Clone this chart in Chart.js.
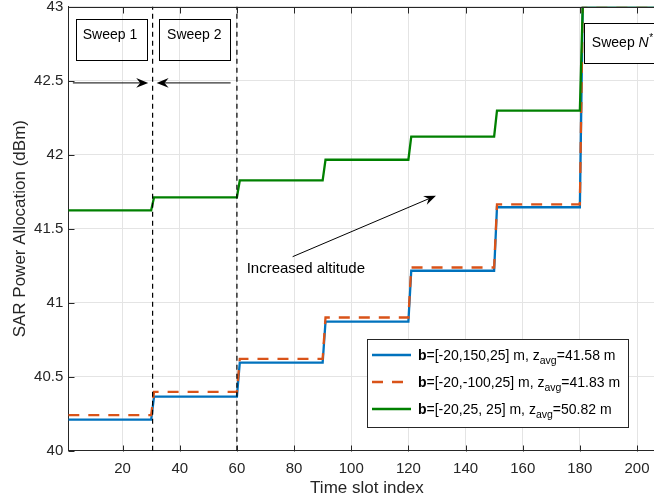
<!DOCTYPE html>
<html><head><meta charset="utf-8">
<script src="https://cdn.jsdelivr.net/npm/chart.js@4"></script>
<style>
html,body{margin:0;padding:0;background:#fff;overflow:hidden;}
#wrap{width:654px;height:499px;overflow:hidden;position:relative;}
canvas{display:block;}
</style></head><body>
<div id="wrap"><canvas id="c" width="700" height="499" style="width:700px;height:499px"></canvas></div>
<script>
// ---------------- data ----------------
const sweepLength = 30;
const xMin = 1, xMax = 210;
const xTicks = [20, 40, 60, 80, 100, 120, 140, 160, 180, 200];
const yTicks = [40, 40.5, 41, 41.5, 42, 42.5, 43];
const sweepBoundaries = [30.5, 60];
// power level (dBm) held during each sweep of 30 time slots
const blueLevels   = [40.21, 40.365, 40.595, 40.872, 41.216, 41.645, 43.0];
const orangeLevels = [40.24, 40.398, 40.620, 40.900, 41.238, 41.665, 43.0];
const greenLevels  = [41.624, 41.712, 41.826, 41.966, 42.122, 42.298, 43.0];
const seriesBold   = ['b', 'b', 'b'];
const seriesText   = ['=[-20,150,25] m, z', '=[-20,-100,25] m, z', '=[-20,25, 25] m, z'];
const seriesSub    = ['avg', 'avg', 'avg'];
const seriesZavg   = ['=41.58 m', '=41.83 m', '=50.82 m'];
const seriesColors = ['#0072BD', '#D95319', '#008000'];
const xTitle = 'Time slot index';
const yTitle = 'SAR Power Allocation (dBm)';

const FONT = '"Liberation Sans", Arial, Helvetica, sans-serif';
const AX = '#262626';

function stepPoints(levels) {
  const pts = [];
  levels.forEach((v, s) => {
    const start = s * sweepLength + 1;
    const end = (s === levels.length - 1) ? xMax : (s + 1) * sweepLength;
    pts.push({x: start, y: v});
    pts.push({x: end, y: v});
  });
  return pts;
}

const boundaryDatasets = sweepBoundaries.map(b => ({
  data: [{x: b, y: yTicks[0]}, {x: b, y: yTicks[yTicks.length - 1]}],
  borderColor: '#000', borderWidth: 1.2, borderDash: [5, 4],
  pointRadius: 0, order: 0, clip: false
}));

const mkSeries = (levels, i, extra) => Object.assign({
  data: stepPoints(levels),
  borderColor: seriesColors[i], borderWidth: 2.3,
  pointRadius: 0, tension: 0, fill: false
}, extra);

// --------- annotations (data coordinates) ----------
const sweepBoxes = [
  {x0: 3.65, x1: 28.5, y0: 42.915, y1: 42.635, label: 'Sweep 1', tx: 15.6, ty: 42.805},
  {x0: 32.7, x1: 57.7, y0: 42.915, y1: 42.635, label: 'Sweep 2', tx: 45.1, ty: 42.805}
];
const sweepArrows = [
  {x0: 2.6, y0: 42.485, x1: 28.96, y1: 42.485},
  {x0: 57.8, y0: 42.485, x1: 31.9, y1: 42.485}
];
const altArrow = {x0: 79.5, y0: 41.311, x1: 129.65, y1: 41.723};
const altText = {x: 63.4, y: 41.232, text: 'Increased altitude'};
const lastBox = {x0: 181.4, x1: 225, y0: 42.888, y1: 42.618, textX: 184.2, textY: 42.761};

function arrowHead(ctx, x0, y0, x1, y1) {
  const a = Math.atan2(y1 - y0, x1 - x0);
  const L = 12, W = 4.8, N = 8;
  ctx.save();
  ctx.translate(x1, y1); ctx.rotate(a);
  ctx.beginPath();
  ctx.moveTo(0, 0);
  ctx.lineTo(-L, -W);
  ctx.lineTo(-N, 0);
  ctx.lineTo(-L, W);
  ctx.closePath();
  ctx.fillStyle = '#000'; ctx.fill();
  ctx.restore();
}

const annot = {
  id: 'annot',
  afterDatasetsDraw(chart) {
    const ctx = chart.ctx, xs = chart.scales.x, ys = chart.scales.y;
    const X = v => xs.getPixelForValue(v), Y = v => ys.getPixelForValue(v);
    ctx.save();
    ctx.strokeStyle = '#000'; ctx.lineWidth = 1; ctx.setLineDash([]);
    ctx.fillStyle = '#000';
    // sweep boxes
    sweepBoxes.forEach(b => {
      ctx.strokeRect(Math.round(X(b.x0)) + 0.5, Math.round(Y(b.y0)) + 0.5,
        Math.round(X(b.x1) - X(b.x0)), Math.round(Y(b.y1) - Y(b.y0)));
      ctx.font = '14px ' + FONT; ctx.textAlign = 'center'; ctx.textBaseline = 'middle';
      ctx.fillText(b.label, X(b.tx), Y(b.ty));
    });
    // last box
    ctx.fillStyle = '#fff';
    ctx.fillRect(X(lastBox.x0), Y(lastBox.y0), X(lastBox.x1) - X(lastBox.x0), Y(lastBox.y1) - Y(lastBox.y0));
    ctx.strokeRect(Math.round(X(lastBox.x0)) + 0.5, Math.round(Y(lastBox.y0)) + 0.5,
      Math.round(X(lastBox.x1) - X(lastBox.x0)), Math.round(Y(lastBox.y1) - Y(lastBox.y0)));
    ctx.fillStyle = '#000';
    ctx.textAlign = 'left'; ctx.textBaseline = 'alphabetic';
    let tx = X(lastBox.textX); const bl = Y(lastBox.textY) + 5;
    ctx.font = '14px ' + FONT; ctx.fillText('Sweep ', tx, bl); tx += ctx.measureText('Sweep ').width;
    ctx.font = 'italic 14px ' + FONT; ctx.fillText('N', tx, bl); tx += ctx.measureText('N').width;
    ctx.font = '10px ' + FONT; ctx.fillText('*', tx + 0.5, bl - 6);
    // arrows
    sweepArrows.concat([altArrow]).forEach(a => {
      const px0 = X(a.x0), py0 = Y(a.y0), px1 = X(a.x1), py1 = Y(a.y1);
      const ang = Math.atan2(py1 - py0, px1 - px0);
      ctx.beginPath();
      ctx.moveTo(px0, py0);
      ctx.lineTo(px1 - 8 * Math.cos(ang), py1 - 8 * Math.sin(ang));
      ctx.stroke();
      arrowHead(ctx, px0, py0, px1, py1);
    });
    ctx.font = '15px ' + FONT; ctx.textAlign = 'left'; ctx.textBaseline = 'middle';
    ctx.fillText(altText.text, X(altText.x), Y(altText.y));
    ctx.restore();
  },
  afterDraw(chart) {
    const ctx = chart.ctx, ca = chart.chartArea, xs = chart.scales.x, ys = chart.scales.y;
    ctx.save();
    ctx.strokeStyle = AX; ctx.lineWidth = 1; ctx.setLineDash([]);
    const top = Math.round(ca.top) + 0.5, bot = Math.round(ca.bottom) + 0.5;
    const left = Math.round(ca.left) + 0.5, right = Math.round(ca.right) - 0.5;
    ctx.beginPath();
    ctx.moveTo(left, top); ctx.lineTo(right, top); ctx.lineTo(right, bot);
    xTicks.forEach(v => {
      const p = Math.round(xs.getPixelForValue(v)) + 0.5;
      ctx.moveTo(p, bot); ctx.lineTo(p, bot - 6);
      ctx.moveTo(p, top); ctx.lineTo(p, top + 6);
    });
    yTicks.forEach(v => {
      const p = Math.round(ys.getPixelForValue(v)) + 0.5;
      ctx.moveTo(left, p); ctx.lineTo(left + 6, p);
      ctx.moveTo(right, p); ctx.lineTo(right - 6, p);
    });
    ctx.stroke();

    // legend
    const lx = 367.5, ly = 339.5, lw = 261, lh = 88;
    ctx.fillStyle = '#fff'; ctx.fillRect(lx, ly, lw, lh);
    ctx.strokeStyle = AX; ctx.strokeRect(lx, ly, lw, lh);
    const rows = [355, 382, 409];
    rows.forEach((ry, i) => {
      ctx.save();
      ctx.strokeStyle = seriesColors[i]; ctx.lineWidth = 2.3;
      ctx.setLineDash(i === 1 ? [11, 9] : []);
      ctx.beginPath(); ctx.moveTo(372, ry); ctx.lineTo(411, ry); ctx.stroke();
      ctx.restore();
      ctx.fillStyle = '#000'; ctx.textAlign = 'left'; ctx.textBaseline = 'alphabetic';
      let x = 418; const base = ry + 5;
      ctx.font = 'bold 14px ' + FONT; ctx.fillText(seriesBold[i], x, base); x += ctx.measureText(seriesBold[i]).width;
      ctx.font = '14px ' + FONT; ctx.fillText(seriesText[i], x, base); x += ctx.measureText(seriesText[i]).width;
      ctx.font = '10.5px ' + FONT; ctx.fillText(seriesSub[i], x, base + 4); x += ctx.measureText(seriesSub[i]).width;
      ctx.font = '14px ' + FONT; ctx.fillText(seriesZavg[i], x, base);
    });
    ctx.restore();
  }
};

Chart.defaults.font.family = FONT;
Chart.defaults.color = AX;

new Chart(document.getElementById('c'), {
  type: 'line',
  data: {
    datasets: boundaryDatasets.concat([
      mkSeries(greenLevels, 2, {order: 1}),
      mkSeries(orangeLevels, 1, {order: 2, borderDash: [11, 9]}),
      mkSeries(blueLevels, 0, {order: 3})
    ])
  },
  options: {
    responsive: false, animation: false, devicePixelRatio: 1,
    layout: {padding: {left: 0, top: 6.7, right: 34.4, bottom: 0}},
    plugins: {legend: {display: false}, tooltip: {enabled: false}},
    scales: {
      x: {
        type: 'linear', min: xMin, max: xMax,
        afterBuildTicks: s => { s.ticks = xTicks.map(v => ({value: v})); },
        afterFit: s => { s.height = 48.3; s.paddingLeft = 0; s.paddingRight = 0; },
        ticks: {font: {size: 15}, color: AX, padding: 9, maxRotation: 0, autoSkip: false, callback: v => String(v)},
        grid: {color: '#e4e4e4', drawTicks: false},
        border: {display: true, color: AX, width: 1},
        title: {display: true, text: xTitle, font: {size: 17}, color: AX, padding: {top: 0, bottom: 0}}
      },
      y: {
        type: 'linear', min: yTicks[0], max: yTicks[yTicks.length - 1],
        afterBuildTicks: s => { s.ticks = yTicks.map(v => ({value: v})); },
        afterFit: s => { s.width = 68.3; s.paddingTop = 0; s.paddingBottom = 0; },
        ticks: {font: {size: 15}, color: AX, padding: 5, callback: v => String(v)},
        grid: {color: '#e4e4e4', drawTicks: false},
        border: {display: true, color: AX, width: 1},
        title: {display: true, text: yTitle, font: {size: 17}, color: AX, padding: {top: 10.5, bottom: 0}}
      }
    }
  },
  plugins: [annot]
});
</script>
</body></html>
